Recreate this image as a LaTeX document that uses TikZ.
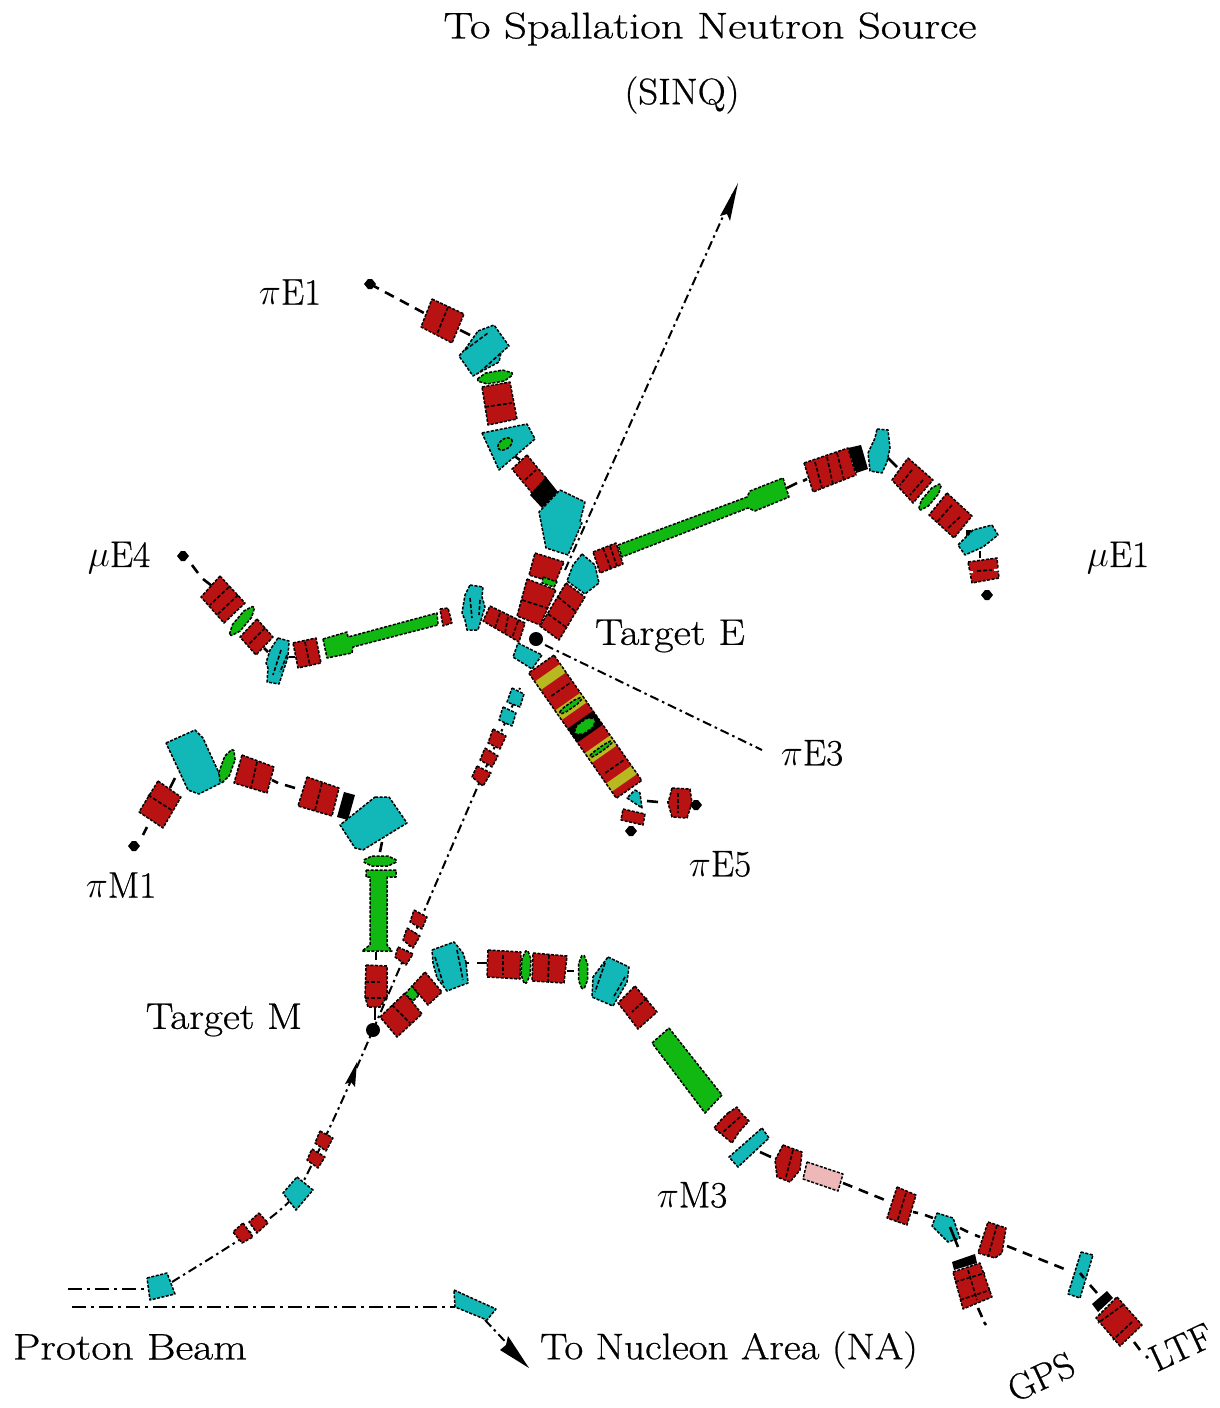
\documentclass[tikz,border=0pt]{standalone}
\usepackage{fontspec}
\setmainfont{Latin Modern Roman}[FakeBold=0.6]
\definecolor{mred}{HTML}{B81212}
\definecolor{mcyan}{HTML}{12B8B8}
\definecolor{mgreen}{HTML}{12B812}
\definecolor{myellow}{HTML}{B8B820}
\definecolor{mpink}{HTML}{EEB8B8}
\tikzset{
  mag/.style={draw=black,line width=1.5pt,dash pattern=on 3pt off 1.5pt,line join=round},
  dv/.style={draw=black,line width=1.6pt,dash pattern=on 4pt off 2pt},
  beam/.style={draw=black,line width=2pt,dash pattern=on 9pt off 4pt on 2.5pt off 4pt},
  thinbeam/.style={draw=black,line width=1.3pt,dash pattern=on 14pt off 5pt on 3pt off 5pt},
  conn/.style={draw=black,line width=2.6pt,dash pattern=on 10pt off 7pt},
  stub/.style={draw=black,line width=2.6pt},
  lbl/.style={inner sep=0pt,font=\fontsize{37}{40}\selectfont,text=black},
}
\newcommand\pg[2]{\draw[mag,fill=#1] #2 -- cycle;}
\newcommand\dvl[2]{\draw[dv] (#1) -- (#2);}
\newcommand\lens[4]{\begin{scope}[shift={(#1)},rotate=#2]
  \draw[mag,fill=mgreen] (-#3/2,-1.2) -- (-#3/4,-#4/2) -- (#3/4,-#4/2) -- (#3/2,-1.2) -- (#3/2,1.2) -- (#3/4,#4/2) -- (-#3/4,#4/2) -- (-#3/2,1.2) -- cycle;
\end{scope}}
\newcommand\dmd[1]{\fill[black,shift={(#1)}] (-6,0) -- (-2,-5) -- (2,-5) -- (6,0) -- (2,5) -- (-2,5) -- cycle;}
\newcommand\lt[2]{\scalebox{#1}[1]{#2}}
\newcommand\gr[1]{\scalebox{1.5}{$#1$}}
\begin{document}
\begin{tikzpicture}[x=1pt,y=-1pt]
\useasboundingbox (0,0) rectangle (1219,1408);
\fill[white] (0,0) rectangle (1219,1408);

% named points
\coordinate (targetE) at (536,639);
\coordinate (targetM) at (373,1030);
\coordinate (sinqTip) at (733,194);
\coordinate (sinqStart) at (565,570);
\coordinate (e3End) at (762,750);
\coordinate (e3Start) at (545,645);
\coordinate (pStart) at (172,1282);
\coordinate (naTip) at (515,1352);
\coordinate (naStart) at (485,1320);

% beam lines
\draw[beam] (sinqStart) -- (sinqTip);
\draw[beam] (targetM) -- (520,688);
\draw[beam] (e3Start) -- (e3End);
\draw[beam] (pStart) .. controls (215,1255) and (285,1215) .. (300,1188) .. controls (325,1140) and (345,1095) .. (targetM);
\draw[thinbeam] (68,1289) -- (147,1289);
\draw[thinbeam] (72,1307) -- (455,1307);
\draw[beam] (naStart) -- (naTip);
% arrow heads
\fill[black] (738,183) -- (720,216) -- (727,214) -- (730,221) -- cycle;
\fill[black] (357,1062) -- (345,1084) -- (351,1082) -- (355,1087) -- cycle;
\fill[black] (529,1368) -- (500,1350) -- (506,1345) -- (508,1336) -- cycle;

% PROTON BEAM LINE
\pg{mcyan}{(147,1278) -- (167,1273) -- (175,1294) -- (150,1300)}
\pg{mred}{(243,1223) -- (253,1237) -- (242,1243) -- (233,1232)}
\pg{mred}{(259,1213) -- (268,1223) -- (257,1233) -- (249,1222)}
\pg{mcyan}{(297,1177) -- (313,1190) -- (296,1210) -- (283,1193)}
\pg{mred}{(312,1149) -- (325,1157) -- (318,1168) -- (307,1160)}
\pg{mred}{(320,1131) -- (333,1138) -- (326,1151) -- (315,1143)}
\pg{mred}{(398,947) -- (413,954) -- (406,965) -- (395,957)}
\pg{mred}{(407,928) -- (420,936) -- (413,948) -- (403,940)}
\pg{mred}{(414,910) -- (427,917) -- (422,929) -- (410,922)}
\pg{mred}{(477,766) -- (491,773) -- (483,786) -- (472,777)}
\pg{mred}{(485,748) -- (498,756) -- (492,767) -- (480,760)}
\pg{mred}{(493,729) -- (506,736) -- (500,749) -- (488,743)}
\pg{mcyan}{(503,707) -- (516,713) -- (512,726) -- (499,720)}
\pg{mcyan}{(512,688) -- (524,694) -- (520,707) -- (507,702)}
\pg{mcyan}{(518,643) -- (542,655) -- (532,669) -- (513,657)}
\pg{mcyan}{(454,1290) -- (496,1309) -- (487,1320) -- (455,1307)}

% TARGETS
\fill[black] (targetE) circle (7);
\fill[black] (targetM) circle (7);

% piE1
\dmd{370,284}
\draw[conn] (370,284) -- (424,313);
\draw[stub] (460,330) -- (470,335);
\draw[stub] (513,455) -- (520,460);
\pg{mred}{(432,299) -- (464,314) -- (452,343) -- (421,327)}
\dvl{448,307}{437,334}
\pg{mcyan}{(478,331) -- (494,325) -- (509,346) -- (501,353) -- (499,362) -- (473,376) -- (459,356) -- (466,348)}
\dvl{465,350}{488,333}
\dvl{480,372}{502,352}
\lens{495,377}{10}{35}{11}
\pg{mred}{(482,387) -- (510,382) -- (517,419) -- (488,425)}
\dvl{485,407}{512,403}
\pg{mcyan}{(482,433) -- (527,424) -- (535,439) -- (499,470)}
\draw[mag,fill=mgreen,rotate around={35:(505,444)}] (505,444) ellipse (8 and 5);
\pg{mred}{(527,455) -- (546,478) -- (532,493) -- (512,469)}
\dvl{525,480}{536,470}
\fill[black] (546,477) -- (558,492) -- (542,508) -- (530,495) -- cycle;
\pg{mcyan}{(560,490) -- (585,502) -- (580,522) -- (582,523) -- (568,555) -- (546,548) -- (539,512)}

% target E magnets
\pg{mred}{(535,553) -- (564,562) -- (555,583) -- (529,575)}
\pg{mgreen}{(543,577) -- (557,582) -- (554,587) -- (542,583)}
\pg{mred}{(527,579) -- (556,590) -- (540,625) -- (517,616)}
\dvl{522,600}{547,608}
\pg{mred}{(566,583) -- (585,597) -- (559,640) -- (540,626)}
\dvl{558,597}{575,611}
\dvl{548,614}{566,627}

% muE1
\pg{mcyan}{(582,554) -- (595,565) -- (599,583) -- (585,594) -- (567,581) -- (573,565)}
\pg{mred}{(593,552) -- (616,543) -- (623,564) -- (600,573)}
\dvl{603,548}{611,569}
\dvl{610,546}{617,566}
\pg{mgreen}{(618,545) -- (747,497) -- (750,491) -- (783,478) -- (789,497) -- (755,511) -- (748,508) -- (622,557)}
\draw[stub] (787,488) -- (797,483);
\draw[stub] (803,481) -- (807,479);
\pg{mred}{(804,463) -- (848,448) -- (856,475) -- (813,492)}
\dvl{815,462}{822,488}
\dvl{827,457}{833,485}
\dvl{837,453}{844,480}
\fill[black] (848,448) -- (861,445) -- (868,469) -- (856,473) -- cycle;
\pg{mcyan}{(877,429) -- (888,430) -- (890,448) -- (887,462) -- (882,473) -- (870,471) -- (868,453) -- (875,438)}
\draw[stub] (888,458) -- (897,467);
\pg{mred}{(908,458) -- (933,480) -- (913,503) -- (892,480)}
\dvl{912,470}{900,485}
\dvl{923,480}{910,495}
\lens{930,497}{50}{32}{9}
\pg{mred}{(947,493) -- (972,516) -- (954,538) -- (929,515)}
\dvl{952,505}{937,522}
\dvl{960,517}{947,529}
\fill[black] (966,530) -- (971,530) -- (971,536) -- (966,536) -- cycle;
\pg{mcyan}{(992,525) -- (998,535) -- (983,547) -- (965,555) -- (958,545) -- (973,530)}
\draw[stub] (980,551) -- (980,558);
\pg{mred}{(968,562) -- (997,558) -- (999,578) -- (972,583)}
\dvl{977,571}{992,570}
\draw[draw=white,line width=2pt] (967,572.5) -- (973,572);
\draw[draw=white,line width=2pt] (994,570) -- (1000,569.5);
\dmd{987,595}

% muE4
\dmd{183,556}
\draw[stub] (192,565) -- (198,573);
\draw[stub] (203,579) -- (212,586);
\pg{mred}{(220,576) -- (245,603) -- (224,623) -- (201,597)}
\dvl{229,587}{210,605}
\dvl{238,595}{218,614}
\lens{242,621}{50}{36}{10}
\pg{mred}{(257,619) -- (273,637) -- (256,655) -- (240,637)}
\dvl{265,628}{248,645}
\draw[stub] (264,648) -- (268,652);
\pg{mcyan}{(278,638) -- (289,641) -- (288,657) -- (279,684) -- (267,682) -- (268,668) -- (266,663) -- (270,650)}
\dvl{281,650}{273,675}
\dvl{287,655}{280,672}
\draw[stub] (289,657) -- (295,657);
\pg{mred}{(293,643) -- (316,638) -- (321,663) -- (298,668)}
\dvl{305,642}{310,666}
\pg{mgreen}{(323,639) -- (347,632) -- (348,637) -- (437,613) -- (438,625) -- (353,647) -- (352,653) -- (327,658)}
\pg{mred}{(440,609) -- (448,608) -- (452,623) -- (443,626)}
\pg{mcyan}{(470,585) -- (483,587) -- (482,597) -- (485,607) -- (478,630) -- (467,630) -- (465,620) -- (462,613) -- (465,595)}
\dvl{470,598}{472,618}
\dvl{480,600}{479,615}
\pg{mred}{(490,606) -- (525,623) -- (519,642) -- (483,621)}
\dvl{500,613}{495,628}
\dvl{508,617}{505,633}
\dvl{518,621}{512,638}

% piE5 stack
\begin{scope}[shift={(541.3,664)},rotate=-55]
  \fill[mred] (0,-15.5) rectangle (153,15.5);
  \fill[myellow] (10.7,-15.5) rectangle (21,15.5);
  \fill[myellow] (46,-15.5) rectangle (57.5,15.5);
  \fill[myellow] (98,-15.5) rectangle (110,15.5);
  \fill[myellow] (135,-15.5) rectangle (145,15.5);
  \fill[black] (68,-15.5) rectangle (85,15.5);
  \draw[mag] (0,-15.5) rectangle (153,15.5);
  \draw[dv] (32,-12) -- (32,12);
  \draw[dv] (126,-12) -- (126,12);
  \lens{51,0}{90}{25}{5}
  \lens{76,0}{90}{24}{11}
  \lens{104,0}{90}{25}{4}
\end{scope}
\pg{mcyan}{(635,790) -- (640,793) -- (642,808) -- (627,798)}
\draw[stub] (647,801) -- (658,802);
\draw[stub] (667,802) -- (672,802);
\pg{mred}{(623,809) -- (645,814) -- (643,825) -- (621,820)}
\dmd{631,831}
\pg{mred}{(672,788) -- (690,789) -- (692,803) -- (687,818) -- (672,817) -- (668,803)}
\dvl{678,793}{678,813}
\dmd{696,805}

% piM1
\dmd{134,846}
\draw[stub] (143,835) -- (147,827);
\pg{mred}{(158,781) -- (181,797) -- (163,828) -- (139,812)}
\dvl{148,795}{173,811}
\draw[stub] (170,788) -- (175,778);
\pg{mcyan}{(166,743) -- (195,730) -- (203,738) -- (223,782) -- (199,794) -- (188,790)}
\lens{227,766}{70}{34}{11}
\pg{mred}{(242,755) -- (274,767) -- (267,793) -- (234,783)}
\dvl{257,762}{251,788}
\draw[stub] (272,780) -- (278,783);
\draw[stub] (285,785) -- (295,788);
\pg{mred}{(307,777) -- (339,788) -- (332,816) -- (298,806)}
\dvl{322,783}{315,810}
\fill[black] (344,792) -- (355,795) -- (348,820) -- (337,817) -- cycle;
\pg{mcyan}{(375,797) -- (389,797) -- (407,823) -- (363,850) -- (355,848) -- (340,825)}
\draw[stub] (382,842) -- (380,852);
\lens{380,861}{0}{32}{10}
\pg{mgreen}{(366,870) -- (396,870) -- (396,877) -- (387,877) -- (387,945) -- (392,951) -- (362,951) -- (370,945) -- (370,877) -- (366,877)}
\draw[stub] (376,952) -- (376,960);
\draw[stub] (375,1007) -- (375,1020);
\pg{mred}{(366,965) -- (387,966) -- (387,997) -- (380,1007) -- (368,1007) -- (365,997)}
\dvl{365,982}{380,982}
\dvl{365,998}{387,998}

% piM3
\pg{mred}{(380,1017) -- (405,993) -- (422,1014) -- (397,1037)}
\dvl{392,1005}{410,1023}
\pg{mgreen}{(405,994) -- (412,986) -- (419,995) -- (413,1001)}
\pg{mred}{(425,972) -- (442,992) -- (428,1005) -- (412,986)}
\pg{mcyan}{(432,950) -- (454,942) -- (463,953) -- (466,962) -- (468,983) -- (447,991) -- (437,978) -- (433,963)}
\dvl{435,957}{443,983}
\dvl{457,950}{463,980}
\draw[stub] (465,963) -- (469,963);
\draw[stub] (477,963) -- (487,963);
\pg{mred}{(488,950) -- (521,952) -- (520,979) -- (487,977)}
\dvl{503,955}{503,975}
\lens{526,967}{87}{32}{9}
\pg{mred}{(533,953) -- (567,956) -- (564,983) -- (532,981)}
\dvl{549,955}{548,982}
\draw[stub] (567,971) -- (574,971);
\lens{583,972}{90}{33}{9}
\pg{mcyan}{(608,957) -- (629,967) -- (627,982) -- (613,1006) -- (592,997) -- (593,977)}
\dvl{605,963}{595,992}
\dvl{625,977}{613,998}
\pg{mred}{(635,986) -- (657,1012) -- (638,1029) -- (618,1003)}
\dvl{647,998}{632,1012}
\pg{mgreen}{(669,1028) -- (722,1095) -- (705,1113) -- (652,1043)}
\pg{mred}{(728,1113) -- (737,1107) -- (741,1113) -- (749,1121) -- (739,1132) -- (732,1143) -- (726,1138) -- (714,1128) -- (721,1120)}
\dvl{740,1117}{722,1133}
\pg{mcyan}{(762,1128) -- (769,1138) -- (738,1167) -- (729,1157)}
\draw[stub] (760,1152) -- (771,1157);
\pg{mred}{(783,1145) -- (802,1152) -- (800,1170) -- (790,1182) -- (777,1177) -- (775,1160)}
\dvl{793,1150}{786,1177}
\pg{mpink}{(807,1162) -- (843,1174) -- (838,1191) -- (803,1179)}
\draw[conn] (843,1183) -- (885,1200);
\pg{mred}{(897,1187) -- (916,1195) -- (907,1225) -- (887,1218)}
\dvl{906,1193}{897,1222}
\draw[stub] (913,1212) -- (918,1213);
\draw[stub] (925,1215) -- (933,1218);
\pg{mcyan}{(937,1213) -- (953,1218) -- (960,1238) -- (948,1242) -- (932,1226)}
\draw[stub] (950,1227) -- (958,1247);
\draw[stub] (960,1228) -- (968,1232);
\draw[stub] (975,1235) -- (980,1237);
\pg{mred}{(988,1222) -- (1006,1228) -- (1002,1253) -- (995,1258) -- (978,1253) -- (982,1240)}
\dvl{997,1225}{988,1257}
\draw[conn] (1007,1246) -- (1067,1270);
\pg{mcyan}{(1081,1252) -- (1093,1255) -- (1080,1298) -- (1068,1294)}
\draw[stub] (1080,1273) -- (1084,1278);
\draw[stub] (1090,1285) -- (1097,1293);
\fill[black] (1107,1291) -- (1113,1298) -- (1098,1312) -- (1092,1304) -- cycle;
\pg{mred}{(1117,1297) -- (1142,1325) -- (1120,1346) -- (1096,1318)}
\dvl{1123,1305}{1098,1323}
\dvl{1132,1322}{1113,1340}
\draw[stub] (1134,1342) -- (1140,1350);
\draw[stub] (1146,1356) -- (1148,1358);
% GPS branch
\fill[black] (952,1262) -- (975,1254) -- (977,1263) -- (954,1270) -- cycle;
\pg{mred}{(953,1272) -- (980,1263) -- (992,1297) -- (963,1309)}
\dvl{955,1282}{985,1273}
\dvl{960,1300}{990,1290}
\dvl{968,1270}{977,1300}
\draw[stub] (978,1308) -- (982,1317);
\draw[stub] (984,1322) -- (986,1325);

% labels
\node[lbl] (tSinqA) at (710,29) {\lt{1.21}{To Spallation Neutron Source}};
\node[lbl] (tSinqB) at (682,95) {\lt{1.05}{(SINQ)}};
\node[lbl] (tPiEone) at (290,292) {\gr{\pi}E1};
\node[lbl] (tMuEone) at (1118,558) {\gr{\mu}E1};
\node[lbl] (tMuEfour) at (119,558) {\gr{\mu}E4};
\node[lbl] (tTargetE) at (670,636) {\lt{1.14}{Target E}};
\node[lbl] (tPiEthree) at (812,753) {\gr{\pi}E3};
\node[lbl] (tPiEfive) at (720,864) {\gr{\pi}E5};
\node[lbl] (tPiMone) at (121,885) {\gr{\pi}M1};
\node[lbl] (tTargetM) at (224,1020) {\lt{1.12}{Target M}};
\node[lbl] (tPiMthree) at (692,1195) {\gr{\pi}M3};
\node[lbl] (tProton) at (130,1347) {\lt{1.18}{Proton Beam}};
\node[lbl] (tNucleon) at (729,1350) {\lt{1.11}{To Nucleon Area (NA)}};
\node[lbl,rotate=25] (tGPS) at (1041,1377) {GPS};
\node[lbl,rotate=25] (tLTF) at (1181,1347) {LTF};
\end{tikzpicture}
\end{document}
